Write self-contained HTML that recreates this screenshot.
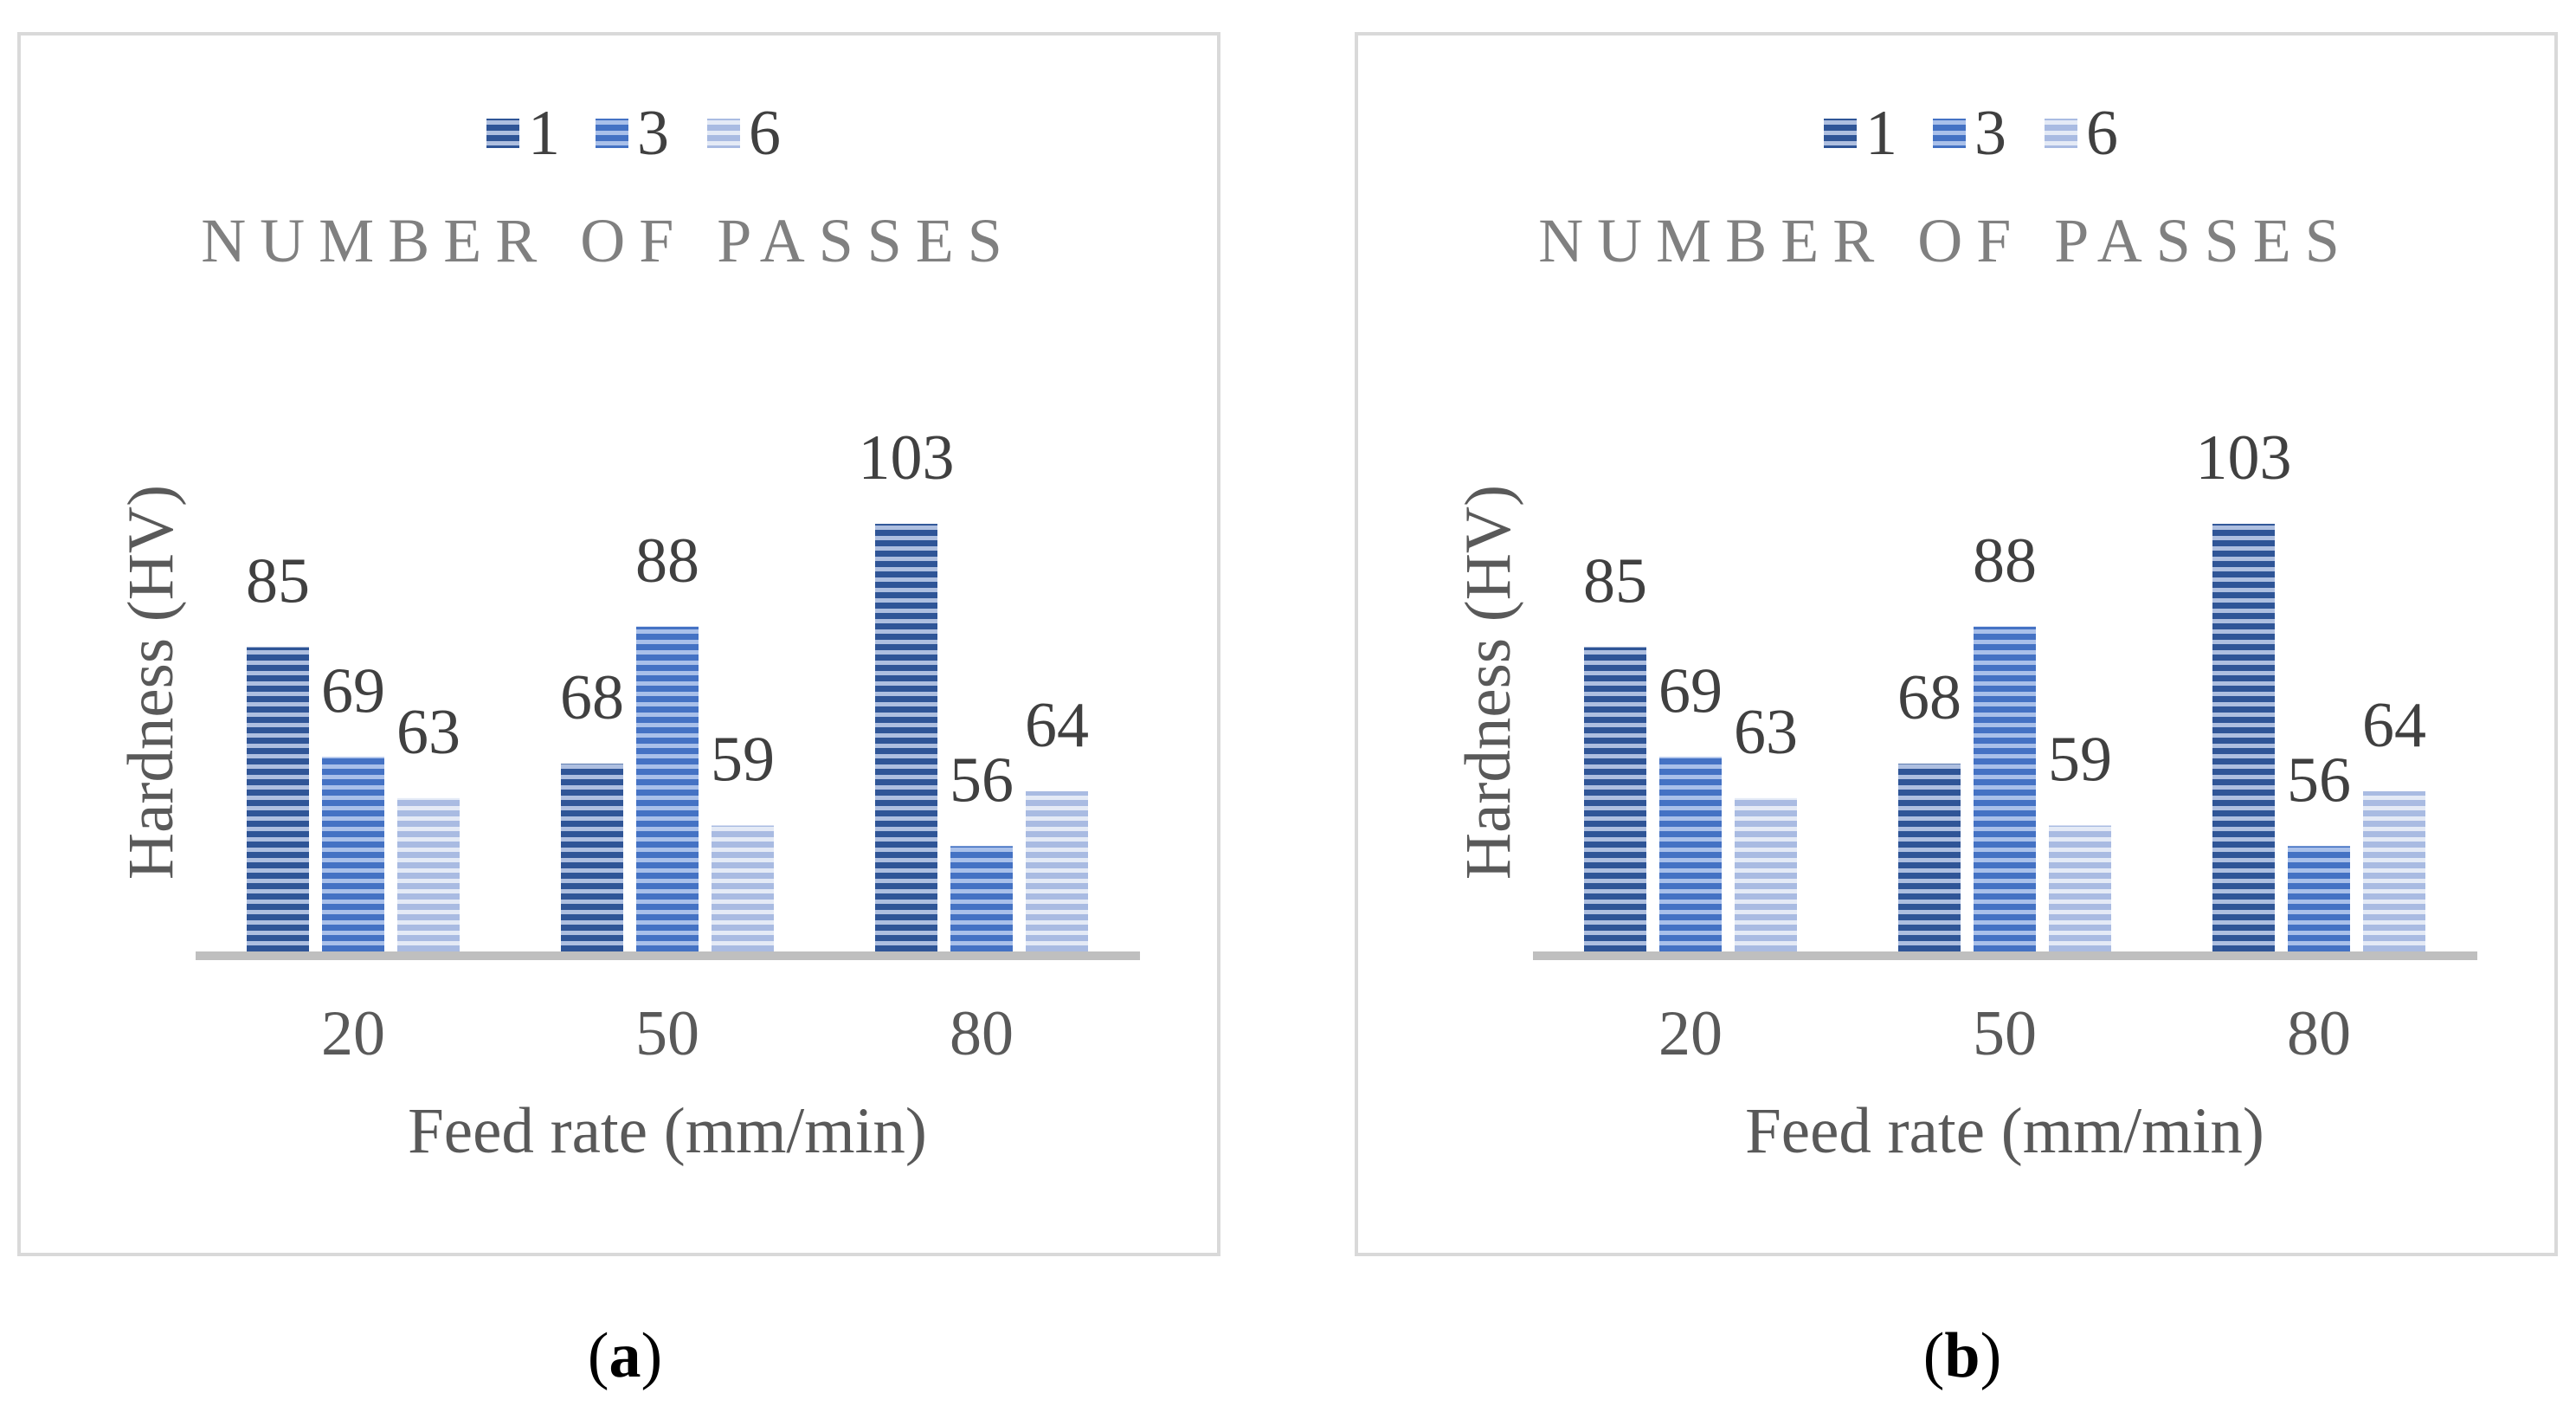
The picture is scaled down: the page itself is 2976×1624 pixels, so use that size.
<!DOCTYPE html>
<html><head><meta charset="utf-8"><style>
html,body{margin:0;padding:0;background:#fff;}
svg{display:block;font-family:"Liberation Serif",serif;}
</style></head><body>
<svg id="chart" width="2976" height="1624" viewBox="0 0 2976 1624" xmlns="http://www.w3.org/2000/svg">
<defs>
<pattern id="p1" width="10" height="12" patternUnits="userSpaceOnUse"><rect width="10" height="12" fill="#aebfe0"/><rect width="10" height="7" fill="#2f5597"/></pattern>
<pattern id="p2" width="10" height="12" patternUnits="userSpaceOnUse"><rect width="10" height="12" fill="#a9c0ea"/><rect width="10" height="7" fill="#4472c4"/></pattern>
<pattern id="p3" width="10" height="12" patternUnits="userSpaceOnUse"><rect width="10" height="12" fill="#e4eaf6"/><rect width="10" height="7" fill="#a9bbe2"/></pattern>
</defs>
</svg>
<script>
const categories = ["20", "50", "80"];
const seriesNames = ["1", "3", "6"];
const series1 = [85, 68, 103];
const series3 = [69, 88, 56];
const series6 = [63, 59, 64];
const panelLabels = ["a", "b"];

const NS = "http://www.w3.org/2000/svg";
const svg = document.getElementById("chart");
function el(tag, attrs, parent) {
  const e = document.createElementNS(NS, tag);
  for (const k in attrs) e.setAttribute(k, attrs[k]);
  (parent || svg).appendChild(e);
  return e;
}
const allSeries = [series1, series3, series6];
const fills = ["url(#p1)", "url(#p2)", "url(#p3)"];
const baseY = 1104, vMin = 40, pxPerUnit = 7.92;
function yScale(v) { return baseY - (v - vMin) * pxPerUnit; }
function xGroup(i) { return 408 + i * 363; }

panelLabels.forEach((lab, p) => {
  const ox = p * 1545;
  const g = el("g", {transform: "translate(" + ox + ",0)"});
  
  
  const frame = el("rect", {x: 22, y: 39, width: 1386, height: 1410, fill: "#fff", stroke: "#d9d9d9", "stroke-width": 4}, g);
  
  
  const lx = [562, 688, 817];
  seriesNames.forEach((n, s) => {
    const sw = el("rect", {x: lx[s], y: 137, width: 38, height: 34, fill: fills[s]}, g);
    
    
    const t = el("text", {x: lx[s] + 48, y: 178, "font-size": 74, fill: "#404040"}, g);
    t.textContent = n;
    
    
  });
  const title = el("text", {x: 703, y: 302, "font-size": 72, fill: "#808080", "text-anchor": "middle", "letter-spacing": 16}, g);
  title.textContent = "NUMBER OF PASSES";
  
  
  categories.forEach((c, i) => {
    allSeries.forEach((arr, s) => {
      const v = arr[i];
      const x = xGroup(i) + (s - 1) * 87 - 36;
      const y = yScale(v);
      const b = el("rect", {x: x, y: y, width: 72, height: baseY - y, fill: fills[s]}, g);
      
      
      const t = el("text", {x: x + 36, y: y - 52, "font-size": 74, fill: "#404040", "text-anchor": "middle"}, g);
      t.textContent = v;
      
      
    });
    const tk = el("text", {x: xGroup(i), y: 1218, "font-size": 74, fill: "#595959", "text-anchor": "middle"}, g);
    tk.textContent = c;
    
    
  });
  const ax = el("rect", {x: 226, y: 1099, width: 1091, height: 10, fill: "#bfbfbf"}, g);
  
  
  const xt = el("text", {x: 771, y: 1331, "font-size": 75, fill: "#595959", "text-anchor": "middle"}, g);
  xt.textContent = "Feed rate (mm/min)";
  
  
  const yt = el("text", {x: 0, y: 0, "font-size": 75, fill: "#595959", "text-anchor": "middle", transform: "translate(199,788) rotate(-90)"}, g);
  yt.textContent = "Hardness (HV)";
  
  
  const cap = el("text", {x: 722, y: 1590, "font-size": 74, fill: "#000", "text-anchor": "middle"}, g);
  cap.innerHTML = '(<tspan font-weight="bold">' + lab + '</tspan>)';
  
  
});
</script>
</body></html>
